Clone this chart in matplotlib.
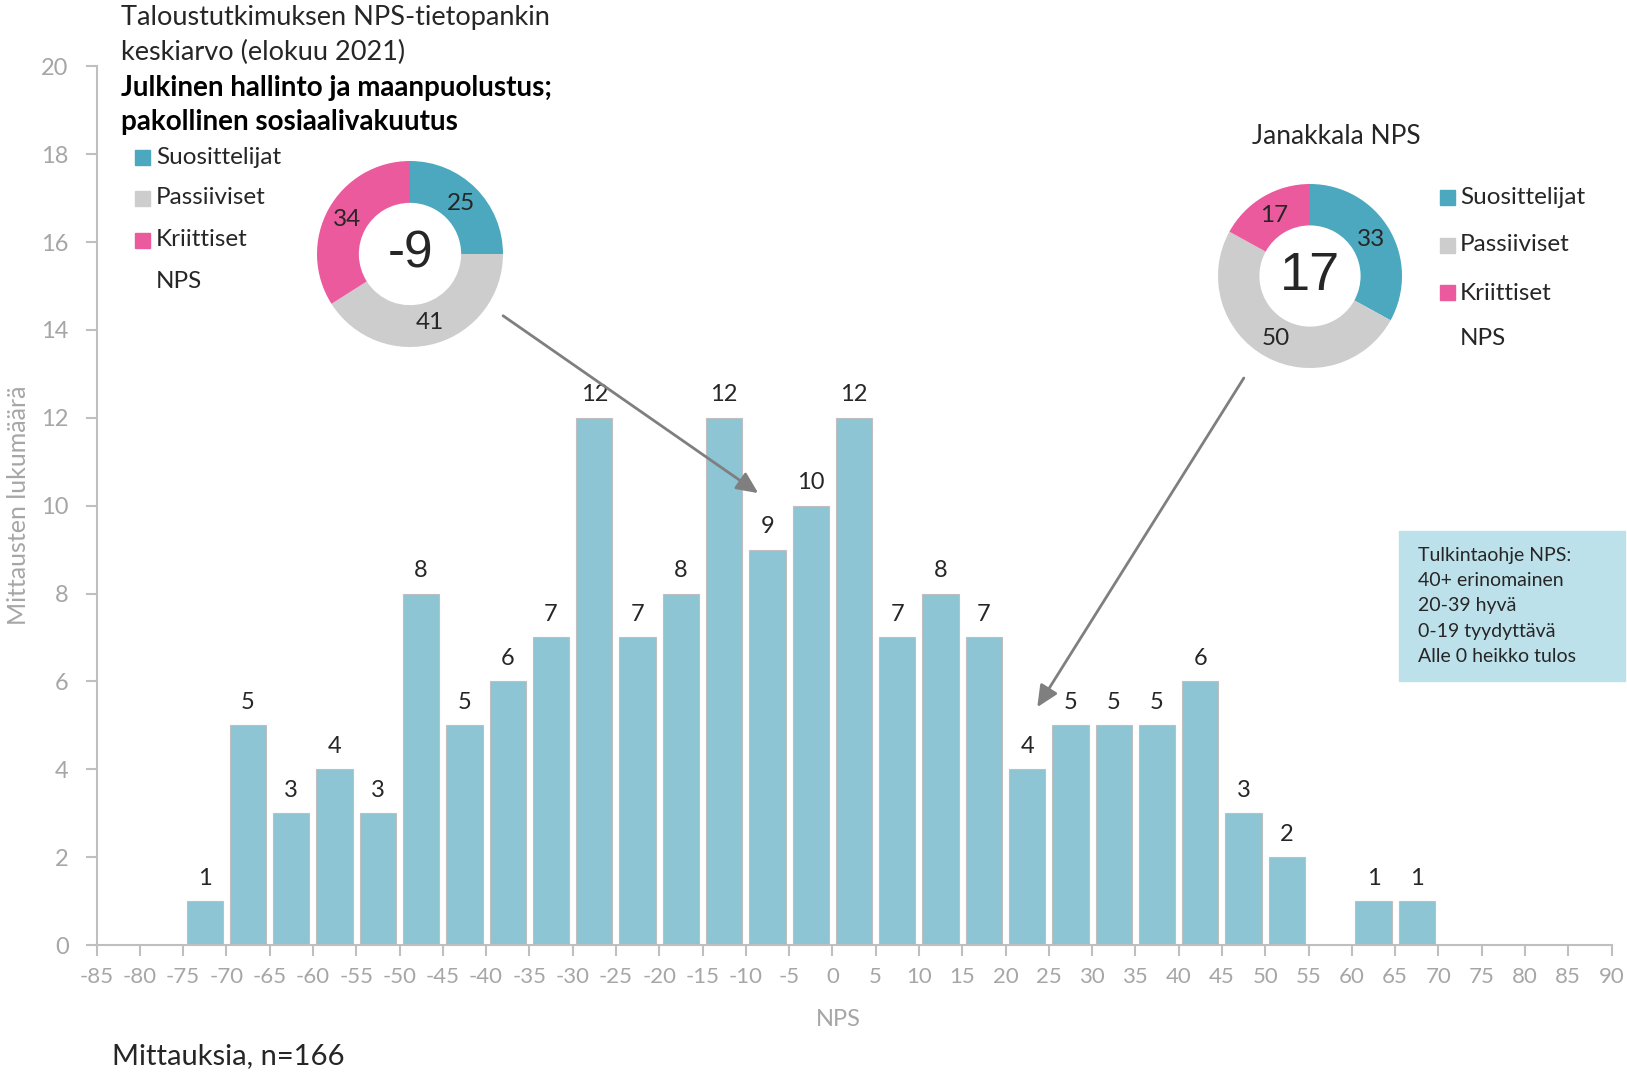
import numpy as np
import matplotlib
matplotlib.use("Agg")
import matplotlib.pyplot as plt
from matplotlib.patches import Rectangle

plt.rcParams['font.family'] = ['Lato', 'DejaVu Sans']
plt.rcParams['axes.unicode_minus'] = False

# histogram data: bin start (NPS) and number of measurements
bin_start = [-75, -70, -65, -60, -55, -50, -45, -40, -35, -30, -25, -20, -15, -10,
             -5, 0, 5, 10, 15, 20, 25, 30, 35, 40, 45, 50, 55, 60, 65]
counts = [1, 5, 3, 4, 3, 8, 5, 6, 7, 12, 7, 8, 12, 9,
          10, 12, 7, 8, 7, 4, 5, 5, 5, 6, 3, 2, 0, 1, 1]
x_ticks = list(range(-85, 91, 5))
y_ticks = list(range(0, 21, 2))

# donuts
donut_labels = ['Suosittelijat', 'Passiiviset', 'Kriittiset']
bench_shares = [25, 41, 34]
bench_nps = -9
town_shares = [33, 50, 17]
town_nps = 17

guide_lines = ['Tulkintaohje NPS:', '40+ erinomainen', '20-39 hyvä',
               '0-19 tyydyttävä', 'Alle 0 heikko tulos']

W, H = 1627, 1073
BAR = '#8DC5D5'
COLS = ['#4BA8BE', '#CDCDCD', '#EC5A9E']
GRAY = '#A6A6A6'
SPINE = '#BFBFBF'
DARK = '#262626'


def fx(px):
    return px / W


def fy(py):
    return 1 - py / H


fig = plt.figure(figsize=(W / 100, H / 100), dpi=100)
ax = fig.add_axes([fx(96.5), fy(945), fx(1611.5) - fx(96.5), fy(66.4) - fy(945)])
ax.patch.set_visible(False)

centers = np.array(bin_start) + 2.5
bars = ax.bar(centers, counts, width=4.2, color=BAR, edgecolor=SPINE, linewidth=0.8, zorder=2)
ax.bar_label(bars, labels=[str(c) if c else '' for c in counts], padding=9,
             fontsize=17, color=DARK)

ax.set_xlim(-85, 90)
ax.set_ylim(0, 20)
ax.set_xticks(x_ticks)
ax.set_yticks(y_ticks)
ax.tick_params(axis='both', colors=SPINE, labelcolor=GRAY, labelsize=16,
               length=8, width=1.5)
ax.tick_params(axis='x', pad=8)
ax.tick_params(axis='y', pad=12, labelsize=17)
for s in ['top', 'right']:
    ax.spines[s].set_visible(False)
for s in ['left', 'bottom']:
    ax.spines[s].set_color(SPINE)
    ax.spines[s].set_linewidth(1.5)
ax.set_xlabel('NPS', fontsize=17, color=GRAY, labelpad=16, x=0.49)
ax.set_ylabel('Mittausten lukumäärä', fontsize=18, color=GRAY, labelpad=8)

# arrows from donuts to the bars
arrow_kw = dict(arrowstyle='-|>,head_length=1.3,head_width=0.6', color='#7F7F7F', lw=2)
ax.annotate('', xy=(-8.3, 10.25), xytext=(-38.3, 14.36), arrowprops=arrow_kw,
            annotation_clip=False)
ax.annotate('', xy=(23.5, 5.36), xytext=(47.7, 12.96), arrowprops=arrow_kw,
            annotation_clip=False)


def donut(cx, cy, r, shares, nps, size):
    dax = fig.add_axes([fx(cx - r), fy(cy + r), fx(2 * r), 2 * r / H])
    wedges, texts, autotexts = dax.pie(
        shares, colors=COLS, startangle=90, counterclock=False, radius=1,
        wedgeprops=dict(width=0.45, linewidth=0),
        autopct=lambda p: f'{p:.0f}', pctdistance=0.77,
        textprops=dict(fontsize=17.5, color=DARK))
    dax.set_xlim(-1, 1)
    dax.set_ylim(-1, 1)
    dax.set_aspect('equal')
    dax.axis('off')
    dax.text(0, 0, str(nps), ha='center', va='center', fontsize=size,
             color=DARK, family=['Liberation Sans', 'DejaVu Sans'])


donut(410, 254, 93, bench_shares, bench_nps, 37)
donut(1310, 276, 92, town_shares, town_nps, 39)

# texts
fig.text(fx(121), fy(18), 'Taloustutkimuksen NPS-tietopankin', fontsize=19.5, color=DARK, va='center')
fig.text(fx(121), fy(52), 'keskiarvo (elokuu 2021)', fontsize=19.5, color=DARK, va='center')
fig.text(fx(121), fy(88), 'Julkinen hallinto ja maanpuolustus;', fontsize=20, color='black',
         va='center', fontweight='bold')
fig.text(fx(121), fy(122), 'pakollinen sosiaalivakuutus', fontsize=20, color='black',
         va='center', fontweight='bold')
fig.text(fx(1336), fy(136), 'Janakkala NPS', fontsize=19, color=DARK, ha='center', va='center')


def legend(x_sq, x_txt, rows):
    for lab, col, yy in zip(donut_labels + ['NPS'], COLS + [None], rows):
        if col:
            fig.add_artist(Rectangle((fx(x_sq), fy(yy + 7.5)), fx(15), 15 / H,
                                     color=col, transform=fig.transFigure))
        fig.text(fx(x_txt), fy(yy), lab, fontsize=17.5, color=DARK, va='center')


legend(135, 156, [157, 198, 240, 281])
legend(1440, 1460, [197, 245, 293, 339])

# interpretation box
fig.add_artist(Rectangle((fx(1399), fy(681)), fx(1625 - 1399), (681 - 531) / H,
                         color='#BDE1EA', transform=fig.transFigure, zorder=5))
for line, yy in zip(guide_lines, [555, 581, 606, 632, 657]):
    fig.text(fx(1418), fy(yy), line, fontsize=14, color=DARK, va='center', zorder=6)

fig.text(fx(112), fy(1056), 'Mittauksia, n=166', fontsize=21, color=DARK, va='center')

fig.savefig('out.png', dpi=100)
